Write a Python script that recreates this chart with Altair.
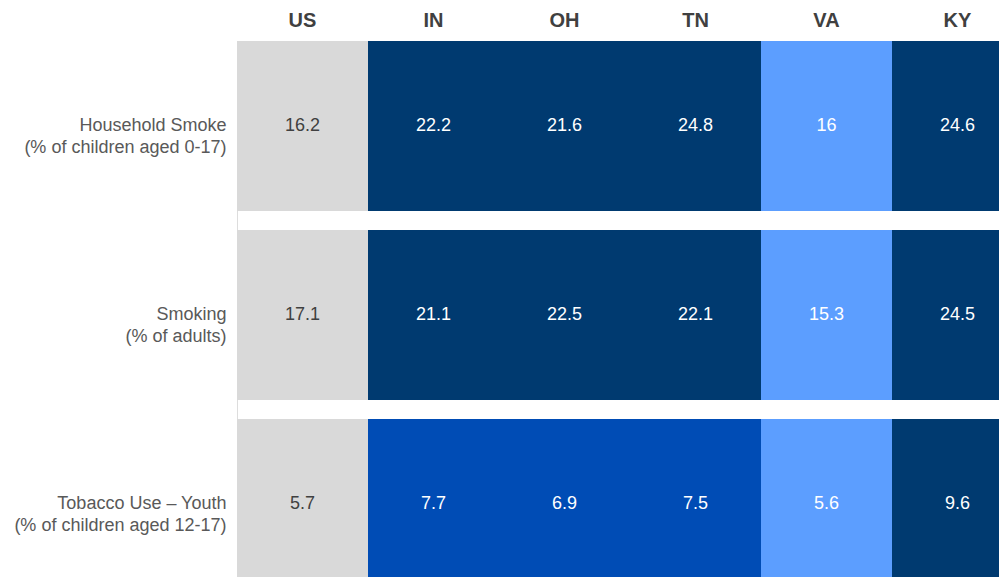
import altair as alt
import pandas as pd

states = ["US", "IN", "OH", "TN", "VA", "KY"]
metrics = [
    "Household Smoke|(% of children aged 0-17)",
    "Smoking|(% of adults)",
    "Tobacco Use – Youth|(% of children aged 12-17)",
]
household_smoke = [16.2, 22.2, 21.6, 24.8, 16, 24.6]
smoking = [17.1, 21.1, 22.5, 22.1, 15.3, 24.5]
tobacco_youth = [5.7, 7.7, 6.9, 7.5, 5.6, 9.6]
household_tier = ["US", "Worse", "Worse", "Worse", "Better", "Worse"]
smoking_tier = ["US", "Worse", "Worse", "Worse", "Better", "Worse"]
tobacco_tier = ["US", "Mid", "Mid", "Mid", "Better", "Worse"]

tiers = ["US", "Better", "Mid", "Worse"]
tier_colors = ["#d9d9d9", "#5c9eff", "#004cb5", "#003a70"]

FONT = "Arial, Liberation Sans, sans-serif"

rows = []
for metric, vals, tier in zip(metrics, [household_smoke, smoking, tobacco_youth],
                              [household_tier, smoking_tier, tobacco_tier]):
    for s, v, t in zip(states, vals, tier):
        rows.append({"metric": metric, "state": s, "value": v,
                     "label": f"{v:g}", "tier": t})
df = pd.DataFrame(rows)

x_enc = alt.X("state:N", sort=states,
              scale=alt.Scale(range=[0, 786], paddingInner=0, paddingOuter=0),
              axis=alt.Axis(orient="top", title=None, labelAngle=0, ticks=False,
                            domain=False, labelFont=FONT,
                            labelFontWeight="bold", labelFontSize=20,
                            labelColor="#404040", labelPadding=11))
y_enc = alt.Y("metric:N", sort=metrics,
              scale=alt.Scale(range=[0, 548], paddingInner=19 / 189, paddingOuter=0),
              axis=alt.Axis(title=None, ticks=False, domain=False,
                            labelExpr="split(datum.label, '|')",
                            labelFont=FONT, labelFontSize=18,
                            labelColor="#595959", labelPadding=11,
                            labelLineHeight=22, labelLimit=300))

base = alt.Chart(df)
rects = base.mark_rect(clip=True).encode(
    x=x_enc, y=y_enc,
    color=alt.Color("tier:N", scale=alt.Scale(domain=tiers, range=tier_colors),
                    legend=None),
)
texts = base.mark_text(font=FONT, fontSize=18, clip=True).encode(
    x=alt.X("state:N", sort=states),
    y=alt.Y("metric:N", sort=metrics),
    text="label:N",
    color=alt.condition(alt.datum.state == "US", alt.value("#404040"),
                        alt.value("#ffffff")),
)

chart = (rects + texts).properties(
    width=762, height=536,
    autosize=alt.AutoSizeParams(type="none"),
    padding={"left": 229, "top": 33, "right": 0, "bottom": 0},
).configure_view(stroke=None).configure(background="#ffffff")

chart.save("out.html", embed_options={"renderer": "svg", "actions": False})
